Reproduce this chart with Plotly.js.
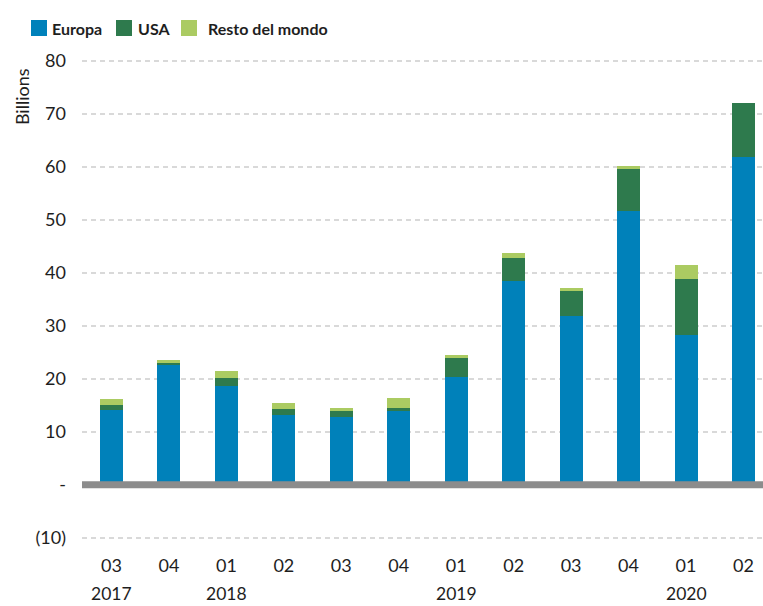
<!DOCTYPE html>
<html>
<head>
<meta charset="utf-8">
<script src="https://cdn.plot.ly/plotly-3.0.1.min.js"></script>
<style>
  html, body { margin: 0; padding: 0; background: #ffffff; }
  #chart { width: 763px; height: 606px; }
</style>
</head>
<body>
<div id="chart"></div>
<script>
// Data (billions)
var categories = ["Q3 2017", "Q4 2017", "Q1 2018", "Q2 2018", "Q3 2018", "Q4 2018",
                  "Q1 2019", "Q2 2019", "Q3 2019", "Q4 2019", "Q1 2020", "Q2 2020"];
var quarterLabels = ["03", "04", "01", "02", "03", "04", "01", "02", "03", "04", "01", "02"];
var europa = [14.15, 22.5, 18.7, 13.1, 12.7, 14.0, 20.3, 38.4, 31.9, 51.7, 28.3, 61.8];
var usa    = [0.95, 0.5, 1.5, 1.2, 1.3, 0.5, 3.7, 4.4, 4.7, 7.9, 10.6, 10.3];
var resto  = [1.1, 0.6, 1.3, 1.2, 0.5, 1.9, 0.5, 1.0, 0.6, 0.6, 2.6, 0.0];
var seriesNames = ["Europa", "USA", "Resto del mondo"];
var seriesColors = ["#0081ba", "#2e7a4d", "#abcb62"];
var yearLabels = ["2017", "2018", "2019", "2020"];
var yearPositions = ["Q3 2017", "Q1 2018", "Q1 2019", "Q1 2020"];
var yTickVals = [-10, 0, 10, 20, 30, 40, 50, 60, 70, 80];
var yTickText = ["(10)", "-", "10", "20", "30", "40", "50", "60", "70", "80"];

var FONT = "Lato, 'Open Sans', sans-serif";
var TXT = "#1e1e1e";

var seriesValues = [europa, usa, resto];
var data = seriesNames.map(function (name, i) {
  return {
    type: "bar",
    name: name,
    x: categories,
    y: seriesValues[i],
    width: 0.4,
    marker: { color: seriesColors[i], line: { width: 0 } },
    hoverinfo: "name+y",
    showlegend: false
  };
});

var annotations = yearLabels.map(function (t, i) {
  return {
    text: t, x: yearPositions[i], xref: "x",
    y: -0.136, yref: "paper", yanchor: "bottom", xanchor: "center",
    showarrow: false, font: { family: FONT, size: 17.5, color: TXT }
  };
});
annotations.push({
  text: "Billions", textangle: -90,
  x: -0.088, xref: "paper", xanchor: "center",
  y: 0.919, yref: "paper", yanchor: "middle",
  showarrow: false, font: { family: FONT, size: 18, color: TXT }
});

// Manual legend (swatches + labels), placed in paper coordinates
var legendSwatchX = [-0.0749, 0.0499, 0.1454];
var legendTextX = [-0.0470, 0.0793, 0.1821];
var shapes = [];
seriesNames.forEach(function (name, i) {
  shapes.push({
    type: "rect", xref: "paper", yref: "paper",
    x0: legendSwatchX[i], x1: legendSwatchX[i] + 0.0235,
    y0: 1.0456, y1: 1.0788,
    fillcolor: seriesColors[i], line: { width: 0 }
  });
  annotations.push({
    text: "<b>" + name + "</b>", xref: "paper", yref: "paper",
    x: legendTextX[i], xanchor: "left", y: 1.0622, yanchor: "middle",
    showarrow: false, font: { family: FONT, size: 16, color: TXT }
  });
});
shapes.push({
  type: "line", layer: "above",
  xref: "paper", x0: 0, x1: 1,
  yref: "y", y0: 0, y1: 0,
  line: { color: "#8c8c8c", width: 7 }
});

var layout = {
  width: 763,
  height: 606,
  margin: { l: 82, r: 0, t: 58, b: 66, pad: 0 },
  paper_bgcolor: "#ffffff",
  plot_bgcolor: "#ffffff",
  barmode: "stack",
  font: { family: FONT, size: 18, color: TXT },
  showlegend: false,
  xaxis: {
    type: "category",
    categoryorder: "array",
    categoryarray: categories,
    range: [-0.513, 11.34],
    tickmode: "array",
    tickvals: categories,
    ticktext: quarterLabels,
    showgrid: false,
    zeroline: false,
    showline: false,
    ticks: "",
    ticklabelstandoff: 13,
    tickfont: { family: FONT, size: 18, color: TXT },
    fixedrange: true
  },
  yaxis: {
    range: [-10.45, 80.55],
    tickmode: "array",
    tickvals: yTickVals,
    ticktext: yTickText,
    showgrid: true,
    gridcolor: "#d9d9d9",
    gridwidth: 2,
    griddash: "5px,4px",
    zeroline: false,
    showline: false,
    ticks: "",
    ticklabelstandoff: 15,
    tickfont: { family: FONT, size: 18, color: TXT },
    fixedrange: true
  },
  shapes: shapes,
  annotations: annotations
};

Plotly.newPlot("chart", data, layout, { displayModeBar: false, staticPlot: true });
</script>
</body>
</html>
